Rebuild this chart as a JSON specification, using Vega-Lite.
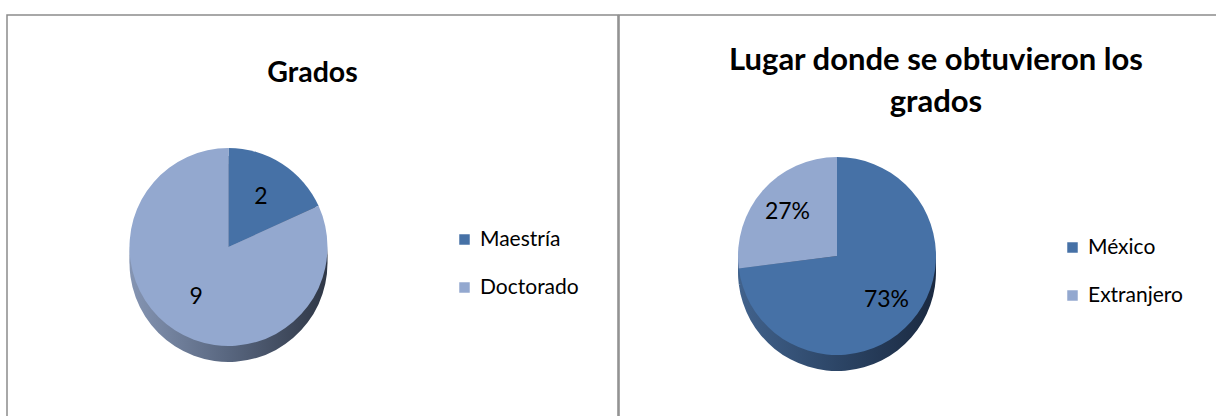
{
  "$schema": "https://vega.github.io/schema/vega-lite/v6.json",
  "padding": {"left": 6, "top": 14, "right": 0, "bottom": 0},
  "background": "white",
  "spacing": -2,
  "config": {
    "font": "Lato",
    "view": {"stroke": "#8c8c8c", "strokeWidth": 1.5},
    "title": {"fontSize": 28, "fontWeight": "bold", "color": "#000000", "anchor": "middle", "font": "Lato", "lineHeight": 42},
    "legend": {
      "orient": "none",
      "symbolType": "square",
      "symbolSize": 110,
      "symbolStrokeWidth": 0,
      "labelFontSize": 21,
      "labelFont": "Lato",
      "labelColor": "#000000",
      "rowPadding": 26,
      "labelOffset": 5,
      "padding": 0
    }
  },
  "resolve": {"scale": {"color": "independent"}},
  "hconcat": [
    {
      "width": 611,
      "height": 420,
      "view": {"stroke": "#8c8c8c", "strokeWidth": 1.5, "fill": "white"},
      "title": {"text": "Grados", "offset": -72, "fontSize": 28.5},
      "data": {"values": [
        {"grado": "Maestría", "n": 2, "k": 1},
        {"grado": "Doctorado", "n": 9, "k": 2}
      ]},
      "encoding": {
        "theta": {"field": "n", "type": "quantitative", "stack": true},
        "order": {"field": "k", "type": "ordinal"}
      },
      "layer": [
        {
          "mark": {"type": "arc", "radius": 99, "xOffset": -84, "yOffset": 38,
            "fill": {"gradient": "linear", "x1": 0, "y1": 0, "x2": 1, "y2": 0,
              "stops": [{"offset": 0, "color": "#8595b3"}, {"offset": 0.5, "color": "#58667f"}, {"offset": 1, "color": "#2f3746"}]}}
        },
        {
          "mark": {"type": "arc", "radius": 99, "xOffset": -84, "yOffset": 30,
            "fill": {"gradient": "linear", "x1": 0, "y1": 0, "x2": 1, "y2": 0,
              "stops": [{"offset": 0, "color": "#8595b3"}, {"offset": 0.5, "color": "#58667f"}, {"offset": 1, "color": "#2f3746"}]}}
        },
        {
          "mark": {"type": "arc", "radius": 99, "xOffset": -84, "yOffset": 22},
          "encoding": {
            "color": {"field": "grado", "type": "nominal", "sort": null,
              "scale": {"domain": ["Maestría", "Doctorado"], "range": ["#4671a6", "#93a8cf"]},
              "legend": {"title": null, "legendX": 447, "legendY": 214}}
          }
        },
        {
          "mark": {"type": "text", "radius": 60, "xOffset": -84, "yOffset": 22, "fontSize": 23, "font": "Lato", "color": "#000000"},
          "encoding": {"text": {"field": "n", "type": "quantitative"}}
        }
      ]
    },
    {
      "width": 640,
      "height": 420,
      "view": {"stroke": "#8c8c8c", "strokeWidth": 1.5, "fill": "white"},
      "title": {"text": ["Lugar donde se obtuvieron los", "grados"], "offset": -104, "fontSize": 31, "dx": -3},
      "data": {"values": [
        {"lugar": "México", "pct": 0.73, "k": 1},
        {"lugar": "Extranjero", "pct": 0.27, "k": 2}
      ]},
      "encoding": {
        "theta": {"field": "pct", "type": "quantitative", "stack": true},
        "order": {"field": "k", "type": "ordinal"}
      },
      "layer": [
        {
          "mark": {"type": "arc", "radius": 99, "xOffset": -102, "yOffset": 47,
            "fill": {"gradient": "linear", "x1": 0, "y1": 0, "x2": 1, "y2": 0,
              "stops": [{"offset": 0, "color": "#41628c"}, {"offset": 0.5, "color": "#2c4566"}, {"offset": 1, "color": "#1a2940"}]}}
        },
        {
          "mark": {"type": "arc", "radius": 99, "xOffset": -102, "yOffset": 39,
            "fill": {"gradient": "linear", "x1": 0, "y1": 0, "x2": 1, "y2": 0,
              "stops": [{"offset": 0, "color": "#41628c"}, {"offset": 0.5, "color": "#2c4566"}, {"offset": 1, "color": "#1a2940"}]}}
        },
        {
          "mark": {"type": "arc", "radius": 99, "xOffset": -102, "yOffset": 31},
          "encoding": {
            "color": {"field": "lugar", "type": "nominal", "sort": null,
              "scale": {"domain": ["México", "Extranjero"], "range": ["#4671a6", "#93a8cf"]},
              "legend": {"title": null, "legendX": 443, "legendY": 222}}
          }
        },
        {
          "mark": {"type": "text", "radius": 66, "xOffset": -102, "yOffset": 31, "fontSize": 23, "font": "Lato", "color": "#000000"},
          "encoding": {"text": {"field": "pct", "type": "quantitative", "format": ".0%"}}
        }
      ]
    }
  ]
}
